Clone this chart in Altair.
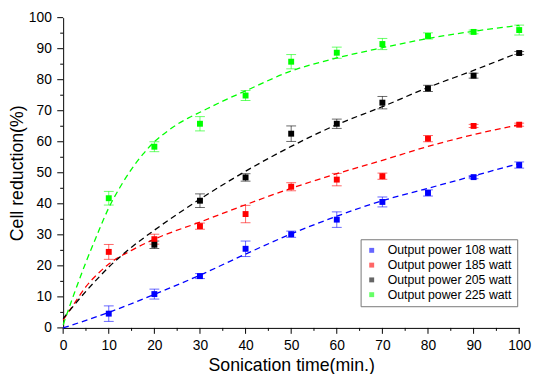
import altair as alt
import pandas as pd

series = ["Output power 108 watt", "Output power 185 watt",
          "Output power 205 watt", "Output power 225 watt"]
colors = ["#0000FF", "#FF0000", "#000000", "#00FF00"]

# measured points (time, value, error)
t_blue = [10, 20, 30, 40, 50, 60, 70, 80, 90, 100]
v_blue = [4.6, 10.9, 16.7, 25.5, 30.2, 34.9, 40.6, 43.5, 48.6, 52.5]
e_blue = [2.5, 1.6, 0.8, 2.5, 1.0, 2.5, 1.6, 1.0, 0.5, 1.0]

t_red = [10, 20, 30, 40, 50, 60, 70, 80, 90, 100]
v_red = [24.5, 28.6, 32.8, 36.7, 45.5, 47.8, 48.9, 61.0, 65.1, 65.5]
e_red = [2.4, 1.6, 1.0, 2.8, 1.3, 2.0, 1.0, 1.0, 0.5, 0.5]

t_black = [20, 30, 40, 50, 60, 70, 80, 90, 100]
v_black = [26.8, 41.0, 48.5, 62.6, 65.8, 72.6, 77.2, 81.3, 88.6]
e_black = [1.2, 2.2, 1.2, 2.5, 1.5, 2.0, 1.0, 0.8, 0.5]

t_green = [10, 20, 30, 40, 50, 60, 70, 80, 90, 100]
v_green = [41.8, 58.4, 65.8, 74.9, 85.8, 88.7, 91.5, 94.1, 95.4, 96.0]
e_green = [2.2, 1.6, 2.3, 1.6, 2.3, 1.8, 1.8, 1.0, 0.6, 1.6]

# fitted curves
ct_blue = [0, 10, 20, 30, 40, 50, 60, 70, 80, 90, 100]
cv_blue = [0, 5, 10.8, 17, 23.8, 30.3, 36, 41, 45, 49, 53]
ct_red = [0, 2.5, 5, 7.5, 10, 15, 20, 30, 40, 50, 60, 70, 80, 90, 100]
cv_red = [2.5, 8, 13.3, 17.3, 20.6, 25, 28.6, 34.1, 39.7, 45, 49.7, 54, 58.5, 62.3, 65.5]
ct_black = [0, 2.5, 5, 7.5, 10, 15, 20, 30, 40, 50, 60, 70, 80, 90, 100]
cv_black = [3, 7.5, 11.8, 15.8, 19.6, 26, 31.5, 41.5, 50.5, 58.5, 65.5, 71.3, 77.5, 83, 88.8]
ct_green = [0, 2.5, 5, 7.5, 10, 12.5, 15, 17.5, 20, 22.5, 25, 27.5, 30, 35, 40, 50, 60, 70, 80, 90, 100]
cv_green = [1, 11.4, 21.2, 30.2, 38.7, 45.4, 51.2, 56, 60, 63, 65.6, 67.7, 69.5, 73.1, 76.4, 82.8, 87, 90.3, 93.3, 95.6, 97.5]

major_ticks = list(range(0, 101, 10))
minor_ticks = list(range(5, 100, 10))

pts = []
for s, t, v, e in zip(series, [t_blue, t_red, t_black, t_green],
                      [v_blue, v_red, v_black, v_green],
                      [e_blue, e_red, e_black, e_green]):
    for ti, vi, ei in zip(t, v, e):
        pts.append({"series": s, "t": ti, "v": vi, "lo": vi - ei, "hi": vi + ei})
pts = pd.DataFrame(pts)

cur = []
for s, t, v in zip(series, [ct_blue, ct_red, ct_black, ct_green],
                   [cv_blue, cv_red, cv_black, cv_green]):
    for ti, vi in zip(t, v):
        cur.append({"series": s, "t": ti, "v": vi})
cur = pd.DataFrame(cur)

major_df = pd.DataFrame({"t": major_ticks, "v": major_ticks})
minor_df = pd.DataFrame({"t": minor_ticks, "v": minor_ticks})

xs = alt.Scale(domain=[0, 100], nice=False)
ys = alt.Scale(domain=[0, 100], nice=False)
common = dict(ticks=False, grid=False, values=major_ticks, labelOverlap=False)
xaxis = alt.Axis(orient="bottom",
                 title="Sonication time(min.)", titleFontSize=18, titleFontWeight="normal",
                 labelFontSize=14, titlePadding=4, labelPadding=11, labelFlush=False,
                 **common)
yaxis = alt.Axis(orient="left",
                 title="Cell reduction(%)", titleFontSize=18, titleFontWeight="normal",
                 labelFontSize=14, titlePadding=2, labelPadding=12,
                 **common)

cscale = alt.Scale(domain=series, range=colors)
legend = alt.Legend(
    title=None, orient="none", legendX=302, legendY=225,
    labelFontSize=12.5, symbolSize=25, symbolType="square",
    symbolStrokeWidth=0,
    strokeColor="#777777", padding=5, rowPadding=2, labelOffset=10,
    labelLimit=300)
col = alt.Color("series:N", scale=cscale, legend=legend)

H = 315


def X(field):
    return alt.X(field, scale=xs, axis=xaxis)


def Y(field):
    return alt.Y(field, scale=ys, axis=yaxis)


points = alt.Chart(pts).mark_point(shape="square", filled=True, size=36, opacity=1).encode(
    x=X("t:Q"), y=Y("v:Q"), color=col,
)

lines = alt.Chart(cur).mark_line(strokeDash=[6, 4], strokeWidth=1.3, interpolate="monotone").encode(
    x=X("t:Q"), y=Y("v:Q"), color=col, detail="series:N",
)

bars = alt.Chart(pts).mark_rule(strokeWidth=1, opacity=0.6).encode(
    x=X("t:Q"), y=Y("lo:Q"), y2="hi:Q", color=col,
)
caps_lo = alt.Chart(pts).mark_tick(thickness=1, size=10, opacity=0.6, orient="horizontal").encode(
    x=X("t:Q"), y=Y("lo:Q"), color=col)
caps_hi = alt.Chart(pts).mark_tick(thickness=1, size=10, opacity=0.6, orient="horizontal").encode(
    x=X("t:Q"), y=Y("hi:Q"), color=col)

# axis tick marks (major and minor), placed by the axis scales
xt_major = alt.Chart(major_df).mark_rule(color="black", strokeWidth=1).encode(
    x=X("t:Q"), y=alt.value(H), y2=alt.value(H + 6))
xt_minor = alt.Chart(minor_df).mark_rule(color="black", strokeWidth=1).encode(
    x=X("t:Q"), y=alt.value(H), y2=alt.value(H + 3))
yt_major = alt.Chart(major_df).mark_rule(color="black", strokeWidth=1).encode(
    y=Y("v:Q"), x=alt.value(0), x2=alt.value(-6))
yt_minor = alt.Chart(minor_df).mark_rule(color="black", strokeWidth=1).encode(
    y=Y("v:Q"), x=alt.value(0), x2=alt.value(-3))

chart = alt.layer(xt_major, xt_minor, yt_major, yt_minor,
                  lines, bars, caps_lo, caps_hi, points).properties(
    width=463, height=H,
    autosize=alt.AutoSizeParams(type="none"),
    padding={"left": 56, "top": 7, "right": 13, "bottom": 44},
).configure_view(stroke=None).configure_axis(
    domainColor="black", labelColor="black", titleColor="black",
    labelFont="Liberation Sans", titleFont="Liberation Sans",
).configure_legend(labelFont="Liberation Sans", labelColor="black")

chart.save("out.html", embed_options={"renderer": "svg", "actions": False})
